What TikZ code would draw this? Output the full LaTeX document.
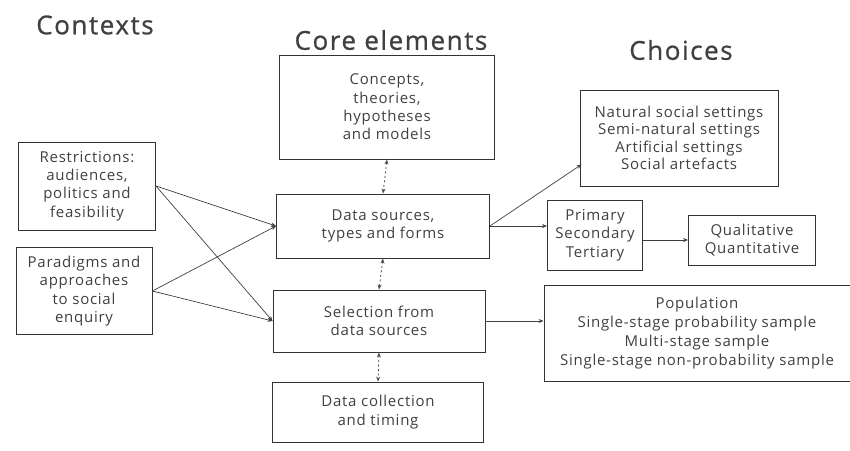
\documentclass[tikz,border=0pt]{standalone}
\usepackage{fontspec}
\setmainfont{Open Sans}
\newfontfamily\boxfont[LetterSpace=5]{Open Sans}
\newfontfamily\ttlfont[LetterSpace=6,FakeBold=0.8]{Open Sans}
\usetikzlibrary{arrows.meta}
\begin{document}
\begin{tikzpicture}[x=1pt,y=-1pt,
  box/.style={draw=black!80,line width=0.9pt,rectangle,align=center,inner sep=0pt,
    text=black!75,font=\boxfont\fontsize{15}{18.3}\selectfont},
  ttl/.style={text=black!75,font=\ttlfont\fontsize{26}{30}\selectfont},
  arr/.style={draw=black!75,line width=0.7pt,-{Stealth[length=5pt,width=4pt]}},
  dotarr/.style={draw=black!70,line width=0.8pt,dash pattern=on 2pt off 2.5pt,
    {Stealth[length=5pt,width=4pt]}-{Stealth[length=5pt,width=4pt]}}]
\useasboundingbox (0,0) rectangle (850,450);
% titles
\node[ttl] (tctx) at (95,25) {Contexts};
\node[ttl] (tcore) at (391,40) {Core elements};
\node[ttl] (tch) at (681,50) {Choices};
% context boxes
\node[box,minimum width=137pt,minimum height=88pt] (res) at (87,186)
  {Restrictions:\\audiences,\\politics and\\feasibility};
\node[box,minimum width=136pt,minimum height=87pt] (par) at (84,291)
  {Paradigms and\\approaches\\to social\\enquiry};
% core boxes
\node[box,minimum width=215pt,minimum height=104pt] (con) at (387,107)
  {Concepts,\\theories,\\hypotheses\\and models};
\node[box,minimum width=213pt,minimum height=64pt] (ds) at (383,226)
  {Data sources,\\types and forms};
\node[box,minimum width=212pt,minimum height=62pt] (sel) at (379,321)
  {Selection from\\data sources};
\node[box,minimum width=211pt,minimum height=60pt] (dc) at (378,412)
  {Data collection\\and timing};
% choice boxes
\node[box,minimum width=198pt,minimum height=96pt,font=\boxfont\fontsize{15}{17.5}\selectfont] (nat) at (679,138)
  {Natural social settings\\Semi-natural settings\\Artificial settings\\Social artefacts};
\node[box,minimum width=95pt,minimum height=70pt] (pri) at (595,235)
  {Primary\\Secondary\\Tertiary};
\node[box,minimum width=127pt,minimum height=50pt] (qual) at (752,240)
  {Qualitative\\Quantitative};
\node[box,minimum width=306pt,minimum height=96pt,font=\boxfont\fontsize{15}{19}\selectfont] (pop) at (697,333)
  {Population\\Single-stage probability sample\\Multi-stage sample\\Single-stage non-probability sample};
% context arrows
\draw[arr] (res.east) -- (ds.west);
\draw[arr] (res.east) -- (sel.west);
\draw[arr] (par.east) -- (ds.west);
\draw[arr] (par.east) -- (sel.west);
% core dotted arrows
\draw[dotarr] (con.south) -- (ds.north);
\draw[dotarr] (ds.south) -- (sel.north);
\draw[dotarr] (sel.south) -- (dc.north);
% choice arrows
\coordinate (natin) at ([xshift=2pt,yshift=22pt]nat.south west);
\draw[arr] (ds.east) -- (natin);
\draw[arr] (ds.east) -- (ds.east -| pri.west);
\draw[arr] (pri.east |- qual.west) -- (qual.west);
\draw[arr] (sel.east) -- (sel.east -| pop.west);
\end{tikzpicture}
\end{document}
